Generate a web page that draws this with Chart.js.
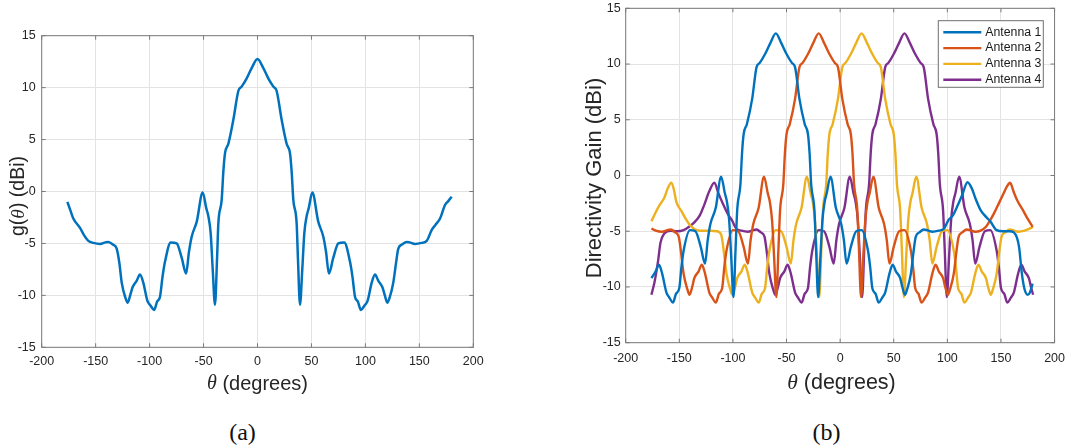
<!DOCTYPE html>
<html>
<head>
<meta charset="utf-8">
<script src="https://cdn.jsdelivr.net/npm/chart.js@4.4.1/dist/chart.umd.min.js"></script>
<style>
  html, body { margin: 0; padding: 0; background: #fff; }
  body { width: 1073px; height: 448px; position: relative; overflow: hidden; }
  canvas { position: absolute; }
  #chartA { left: 0; top: 0; }
  #chartB { left: 540px; top: -10px; }
  .cap {
    position: absolute; top: 431.5px; transform: translate(-50%, -50%);
    font: 24px "Liberation Serif", "Times New Roman", serif; color: #111;
  }
</style>
</head>
<body>
<canvas id="chartA" width="540" height="400"></canvas>
<canvas id="chartB" width="533" height="410"></canvas>
<div class="cap" style="left:242.5px">(a)</div>
<div class="cap" style="left:826.5px">(b)</div>
<script>
// ---- data ----
// (a) single element pattern
const thetaA = [-176.2, -173.5, -170.7, -164.5, -160.8, -156.8, -152, -146, -141, -138.2, -134, -130.5, -128, -125.8,
  -122.5, -120.3, -118, -115.7, -112, -108.9, -105.8, -102.1, -99, -95.9, -93, -90.3, -88, -85.7, -80.4, -74.9, -70.2,
  -66.2, -63.5, -61, -56.3, -50.8, -47.5, -45.5, -43.4, -41.5, -39.4, -37.5, -36.3, -33.2, -31.6, -30.1, -27, -22.4,
  -17.7, -14.7, -10, -5.3, 0,
  5.3, 10, 14.7, 17.7, 22.4, 27, 30.1, 31.6, 33.2, 36.3, 37.5, 39.4, 41.5, 43.4, 45.5, 47.5, 50.8, 56.3, 61, 63.5,
  66.2, 70.2, 74.9, 80.4, 85.7, 88, 90.3, 93, 95.9, 99, 102.1, 105.8, 108.9, 112, 115.7, 118, 120.3, 122.5, 125.8,
  128.5, 130.5, 134, 138.2, 141, 146, 152, 156.8, 161.5, 165, 169.2, 173.8, 177, 180];
const gainA = [-1.0, -1.8, -2.6, -3.5, -4.2, -4.75, -4.95, -5.05, -4.9, -4.85, -5.1, -5.5, -6.9, -8.8,
  -10.2, -10.7, -10.0, -9.2, -8.6, -8.0, -8.8, -10.5, -11.0, -11.4, -10.6, -10.1, -8.2, -6.75, -4.9, -5.0, -6.4,
  -7.9, -5.8, -4.35, -2.9, -0.1, -1.6, -2.4, -4.0, -7.5, -10.9, -6.5, -3.1, -0.8, 2.0, 3.7, 4.6, 6.9,
  9.7, 10.1, 10.9, 11.9, 12.75,
  11.9, 10.9, 10.1, 9.7, 6.9, 4.6, 3.7, 2.0, -0.8, -3.1, -6.5, -10.9, -7.5, -4.0, -2.4, -1.6, -0.1, -2.9, -4.35, -5.8,
  -7.9, -6.4, -5.0, -4.9, -6.75, -8.2, -10.1, -10.6, -11.4, -11.0, -10.5, -8.8, -8.0, -8.6, -9.2, -10.0, -10.7, -10.2, -8.8,
  -6.8, -5.5, -5.1, -4.85, -4.9, -5.05, -4.95, -4.75, -3.7, -3.2, -2.6, -1.3, -0.9, -0.5];

// (b) four steered antennas
const ant1Theta = [-176, -172, -169, -166, -162, -159, -156, -153, -150, -148, -146, -140, -135, -130, -126, -123.5,
  -121, -116, -111, -107.5, -105.5, -103.5, -101.5, -99.5, -97.5, -96, -93, -91.5, -90, -87, -82, -78, -75, -70, -65,
  -60, -55, -50, -45, -42, -38, -33, -30, -28.5, -27, -24, -22.5, -20.5, -18.5, -16.5, -14.5, -12.5, -9, -4, 1, 3.5,
  6, 10, 15, 20, 26, 28, 30, 33, 36, 39, 42, 46, 49, 52, 56, 58, 60.5, 62.5, 66, 68.5, 70.5, 74, 78, 81, 86, 92, 97,
  101, 105, 110, 114, 118.8, 123, 126, 131, 135, 140, 146, 152, 158, 162, 165, 167, 169.5, 172, 175, 177, 179.5];
const ant1Gain = [-9.2, -8.6, -8.0, -8.8, -10.5, -11.0, -11.4, -10.6, -10.1, -8.2, -6.75, -4.9, -5.0, -6.4, -7.9, -5.8,
  -4.35, -2.9, -0.1, -1.6, -2.4, -4.0, -7.5, -10.9, -6.5, -3.1, -0.8, 2.0, 3.7, 4.6, 6.9, 9.7, 10.1, 10.9, 11.9,
  12.75, 11.9, 10.9, 10.1, 9.7, 6.9, 4.6, 3.7, 2.0, -0.8, -3.1, -6.5, -10.9, -7.5, -4.0, -2.4, -1.6, -0.1, -2.9, -4.35, -5.8,
  -7.9, -6.4, -5.0, -4.9, -6.75, -8.2, -10.1, -10.6, -11.4, -11.0, -10.5, -8.8, -8.0, -8.6, -9.2, -10.0, -10.7, -10.2, -8.8, -6.8, -5.5, -5.1, -4.85, -4.9, -5.05, -4.95, -4.75,
  -4.0, -3.6, -2.6, -1.7, -0.6, -1.2, -2.0, -3.1, -3.6, -4.1, -4.9, -5.0, -5.0, -5.1, -5.6, -6.5, -8.8, -10.2, -10.7, -10.5, -9.7];

const ant2Theta = [-176, -172, -166, -161, -158, -154, -150.5, -148.5, -146, -142.5, -140.5, -138, -136, -132, -129,
  -126, -122, -119, -116, -113, -110, -108, -106, -100, -95, -90, -86, -83.5, -81, -76, -71, -67.5, -65.5, -63.5,
  -61.5, -59.5, -57.5, -56, -53, -51.5, -50, -47, -42, -38, -35, -30, -25, -20, -15, -10, -5, -2, 2, 7, 10, 11.5, 13,
  16, 17.5, 19.5, 21.5, 23.5, 25.5, 27.5, 31, 36, 41, 43.5, 46, 50, 55, 60, 66, 68, 70, 73, 76, 79, 82, 86, 89, 92,
  96, 98, 100.5, 102.5, 106, 108.5, 110.5, 114, 118, 121, 126, 131, 136, 140, 143.5, 148, 152.5, 155.5, 158.5, 162,
  165, 171, 175, 179.5];
const ant2Gain = [-4.75, -4.95, -5.05, -4.9, -4.85, -5.1, -5.5, -6.8, -8.8, -10.2, -10.7, -10.0, -9.2, -8.6, -8.0,
  -8.8, -10.5, -11.0, -11.4, -10.6, -10.1, -8.2, -6.75, -4.9, -5.0, -6.4, -7.9, -5.8, -4.35, -2.9, -0.1, -1.6, -2.4, -4.0,
  -7.5, -10.9, -6.5, -3.1, -0.8, 2.0, 3.7, 4.6, 6.9, 9.7, 10.1, 10.9, 11.9, 12.75, 11.9, 10.9, 10.1, 9.7, 6.9, 4.6, 3.7, 2.0, -0.8,
  -3.1, -6.5, -10.9, -7.5, -4.0, -2.4, -1.6, -0.1, -2.9, -4.35, -5.8, -7.9, -6.4, -5.0, -4.9, -6.75, -8.2, -10.1, -10.6, -11.4, -11.0, -10.5, -8.8, -8.0, -8.6,
  -9.2, -10.0, -10.7, -10.2, -8.8, -6.8, -5.5, -5.1, -4.85, -4.9, -5.05, -4.95, -4.6, -4.0, -3.4, -2.5, -1.6, -1.0, -0.65, -1.5,
  -2.2, -3.2, -3.9, -4.6];

const ant3Theta = [-176, -172, -168, -164, -161, -157.4, -155, -152.8, -148, -144, -140.5, -136, -131, -121, -115,
  -111, -108.5, -106, -102.5, -100.5, -98, -96, -92, -89, -86, -82, -79, -76, -73, -70, -68, -66, -60, -55, -50, -46,
  -43.5, -41, -36, -31, -27.5, -25.5, -23.5, -21.5, -19.5, -17.5, -16, -13, -11.5, -10, -7, -2, 2, 5, 10, 15, 20, 25,
  30, 35, 38, 42, 47, 50, 51.5, 53, 56, 57.5, 59.5, 61.5, 63.5, 65.5, 67.5, 71, 76, 81, 83.5, 86, 90, 95, 100, 106,
  108, 110, 113, 116, 119, 122, 126, 129, 132, 136, 138, 140.5, 142.5, 146, 148.5, 150.5, 154, 158, 161, 166, 172,
  177, 180];
const ant3Gain = [-4.1, -3.3, -2.6, -2.0, -1.2, -0.64, -1.3, -2.35, -3.2, -3.9, -4.4, -4.8, -4.95, -4.95, -5.0,
  -5.3, -6.8, -8.8, -10.2, -10.7, -10.0, -9.2, -8.6, -8.0, -8.8, -10.5, -11.0, -11.4, -10.6, -10.1, -8.2, -6.75, -4.9, -5.0, -6.4, -7.9,
  -5.8, -4.35, -2.9, -0.1, -1.6, -2.4, -4.0, -7.5, -10.9, -6.5, -3.1, -0.8, 2.0, 3.7, 4.6, 6.9, 9.7, 10.1, 10.9, 11.9, 12.75, 11.9,
  10.9, 10.1, 9.7, 6.9, 4.6, 3.7, 2.0, -0.8, -3.1, -6.5, -10.9, -7.5, -4.0, -2.4, -1.6, -0.1, -2.9, -4.35, -5.8, -7.9, -6.4, -5.0, -4.9, -6.75,
  -8.2, -10.1, -10.6, -11.4, -11.0, -10.5, -8.8, -8.0, -8.6, -9.2, -10.0, -10.7, -10.2, -8.8, -6.8, -5.5, -5.1, -4.85, -4.9, -5.05, -4.95,
  -4.75, -4.6];

const ant4Theta = [-176, -173, -170, -167.5, -164, -158, -152, -146, -141, -136, -131, -127, -122, -117.3, -113.5,
  -109, -104.5, -101, -97, -92, -86, -81, -78, -74, -70.5, -68.5, -66, -62.5, -60.5, -58, -56, -52, -49, -46, -42,
  -39, -36, -33, -30, -28, -26, -20, -15, -10, -6, -3.5, -1, 4, 9, 12.5, 14.5, 16.5, 18.5, 20.5, 22.5, 24, 27, 28.5,
  30, 33, 38, 42, 45, 50, 55, 60, 65, 70, 75, 78, 82, 87, 90, 91.5, 93, 96, 97.5, 99.5, 101.5, 103.5, 105.5, 107.5,
  111, 116, 121, 123.5, 126, 130, 135, 140, 146, 148, 150, 153, 156, 159, 162, 166, 169, 172, 176, 178, 180];
const ant4Gain = [-10.7, -9.5, -7.8, -6.0, -5.2, -4.95, -5.0, -4.9, -4.6, -4.2, -3.6, -2.7, -1.4, -0.64, -1.6,
  -2.6, -3.5, -4.0, -4.75, -4.95, -5.05, -4.9, -4.85, -5.1, -5.5, -6.8, -8.8, -10.2, -10.7, -10.0, -9.2, -8.6, -8.0, -8.8, -10.5,
  -11.0, -11.4, -10.6, -10.1, -8.2, -6.75, -4.9, -5.0, -6.4, -7.9, -5.8, -4.35, -2.9, -0.1, -1.6, -2.4, -4.0, -7.5, -10.9, -6.5, -3.1, -0.8, 2.0,
  3.7, 4.6, 6.9, 9.7, 10.1, 10.9, 11.9, 12.75, 11.9, 10.9, 10.1, 9.7, 6.9, 4.6, 3.7, 2.0, -0.8, -3.1, -6.5, -10.9, -7.5, -4.0, -2.4, -1.6,
  -0.1, -2.9, -4.35, -5.8, -7.9, -6.4, -5.0, -4.9, -6.75, -8.2, -10.1, -10.6, -11.4, -11.0, -10.5, -8.8, -8.0, -8.6, -9.2, -10.0, -10.7];

const antennaLabels = ["Antenna 1", "Antenna 2", "Antenna 3", "Antenna 4"];
const antennaColors = ["#0072BD", "#D95319", "#EDB120", "#7E2F8E"];
const xTicks = { min: -200, max: 200, step: 50 };
const yTicks = { min: -15, max: 15, step: 5 };

// ---- helpers ----
const SANS = '"Liberation Sans", Arial, Helvetica, sans-serif';
const TEXT = "#262626";
Chart.defaults.font.family = SANS;

const toPoints = (xs, ys) => xs.map((x, i) => ({ x: x, y: ys[i] }));

function drawRich(ctx, parts, cx, cy, vertical) {
  ctx.save();
  ctx.translate(cx, cy);
  if (vertical) ctx.rotate(-Math.PI / 2);
  ctx.textBaseline = "middle";
  ctx.textAlign = "left";
  ctx.fillStyle = TEXT;
  let total = 0;
  parts.forEach(p => { ctx.font = p[1]; total += ctx.measureText(p[0]).width; });
  let x = -total / 2;
  parts.forEach(p => {
    ctx.font = p[1];
    ctx.fillText(p[0], x, 0);
    x += ctx.measureText(p[0]).width;
  });
  ctx.restore();
}

// MATLAB-like box, inward ticks, mixed-font axis titles and an inset legend
const matlabAxes = {
  id: "matlabAxes",
  beforeDatasetsDraw(chart) {
    const { ctx, chartArea: a, scales } = chart;
    ctx.save();
    ctx.strokeStyle = "#7a7a7a";
    ctx.lineWidth = 1;
    ctx.strokeRect(a.left, a.top, a.width, a.height);
    ctx.beginPath();
    scales.x.ticks.forEach(t => {
      const px = scales.x.getPixelForValue(t.value);
      ctx.moveTo(px, a.top); ctx.lineTo(px, a.top + 4);
      ctx.moveTo(px, a.bottom); ctx.lineTo(px, a.bottom - 4);
    });
    scales.y.ticks.forEach(t => {
      const py = scales.y.getPixelForValue(t.value);
      ctx.moveTo(a.left, py); ctx.lineTo(a.left + 4, py);
      ctx.moveTo(a.right, py); ctx.lineTo(a.right - 4, py);
    });
    ctx.stroke();
    ctx.restore();
  },
  afterDraw(chart, args, opts) {
    const ctx = chart.ctx;
    if (opts.xTitle) drawRich(ctx, opts.xTitle.parts, opts.xTitle.x, opts.xTitle.y, false);
    if (opts.yTitle) drawRich(ctx, opts.yTitle.parts, opts.yTitle.x, opts.yTitle.y, true);
    if (opts.legend) {
      const L = opts.legend;
      ctx.save();
      ctx.fillStyle = "#fff";
      ctx.fillRect(L.left, L.top, L.width, L.height);
      ctx.strokeStyle = "#6e6e6e";
      ctx.lineWidth = 1;
      ctx.strokeRect(L.left, L.top, L.width, L.height);
      ctx.font = "12.3px " + SANS;
      ctx.textBaseline = "middle";
      chart.data.datasets.forEach((ds, i) => {
        const y = L.top + L.firstRow + i * L.rowStep;
        ctx.strokeStyle = ds.borderColor;
        ctx.lineWidth = 2.4;
        ctx.beginPath();
        ctx.moveTo(L.left + 5, y);
        ctx.lineTo(L.left + 43, y);
        ctx.stroke();
        ctx.fillStyle = "#1a1a1a";
        ctx.fillText(ds.label, L.left + 47, y);
      });
      ctx.restore();
    }
  }
};

function axisOptions(tickPad, fixedSize, isX) {
  const lim = isX ? xTicks : yTicks;
  return {
    type: "linear",
    min: lim.min,
    max: lim.max,
    ticks: { stepSize: lim.step, padding: tickPad, color: TEXT, font: { size: 12.5 } },
    grid: { color: "#e3e3e3", drawTicks: false },
    border: { display: false },
    afterFit: s => { if (isX) s.height = fixedSize; else s.width = fixedSize; }
  };
}

const lineStyle = { pointRadius: 0, borderWidth: 2.4, fill: false, cubicInterpolationMode: "monotone" };

// ---- chart (a) ----
new Chart(document.getElementById("chartA"), {
  type: "line",
  data: {
    datasets: [{ label: "g", data: toPoints(thetaA, gainA), borderColor: "#0072BD", ...lineStyle, borderWidth: 2.5 }]
  },
  options: {
    responsive: false,
    animation: false,
    layout: { padding: { top: 35.7, right: 66.7, bottom: 0, left: 0 } },
    scales: { x: axisOptions(7, 52.7, true), y: axisOptions(6, 41.7, false) },
    plugins: {
      legend: { display: false },
      tooltip: { enabled: false },
      matlabAxes: {
        xTitle: { x: 257.5, y: 384, parts: [["θ", 'italic 20px "Liberation Serif", serif'], [" (degrees)", "20px " + SANS]] },
        yTitle: { x: 19, y: 196, parts: [["g(", "19.5px " + SANS], ["θ", 'italic 19.5px "Liberation Serif", serif'], [") (dBi)", "19.5px " + SANS]] }
      }
    }
  },
  plugins: [matlabAxes]
});

// ---- chart (b) ----
const antTheta = [ant1Theta, ant2Theta, ant3Theta, ant4Theta];
const antGain = [ant1Gain, ant2Gain, ant3Gain, ant4Gain];

new Chart(document.getElementById("chartB"), {
  type: "line",
  data: {
    datasets: antennaLabels.map((label, i) => ({
      label: label,
      data: toPoints(antTheta[i], antGain[i]),
      borderColor: antennaColors[i],
      ...lineStyle
    }))
  },
  options: {
    responsive: false,
    animation: false,
    layout: { padding: { top: 18.3, right: 15.3, bottom: 0, left: 0 } },
    scales: { x: axisOptions(8, 57.3, true), y: axisOptions(5, 85.7, false) },
    plugins: {
      legend: { display: false },
      tooltip: { enabled: false },
      matlabAxes: {
        xTitle: { x: 301.5, y: 393.5, parts: [["θ", 'italic 21.5px "Liberation Serif", serif'], [" (degrees)", "21.5px " + SANS]] },
        yTitle: { x: 55, y: 188, parts: [["Directivity Gain (dBi)", "22px " + SANS]] },
        legend: { left: 398.3, top: 30.7, width: 105, height: 66.6, firstRow: 11.6, rowStep: 15.8 }
      }
    }
  },
  plugins: [matlabAxes]
});
</script>
</body>
</html>
